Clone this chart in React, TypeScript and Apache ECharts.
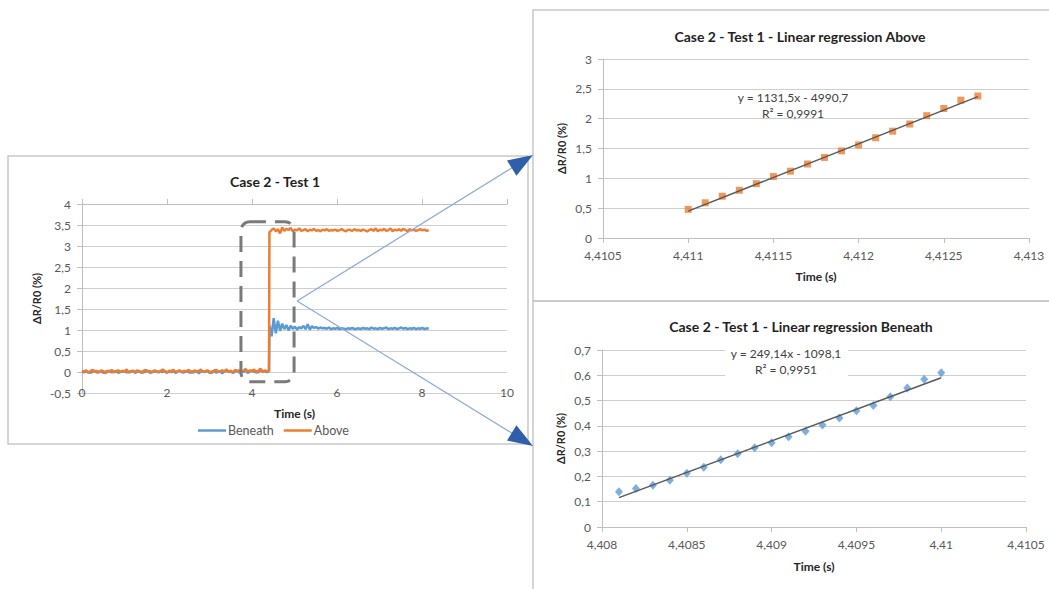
import React, { useEffect, useRef } from "react";
import * as echarts from "echarts";

// ---------- Main chart: Case 2 - Test 1 ----------
const SAMPLE_DT = 0.05; // sampling interval of the plotted signal (s)
const PRE_START = 0; // start time of the pre-step segment (s)
const POST_START = 4.41; // start time of the post-step segment (s)

const abovePre = [
  0.03, 0.01, 0.04, -0.02, 0.02, 0.05, 0.0, 0.03, -0.01, 0.04,
  0.02, -0.03, 0.03, 0.01, 0.05, -0.01, 0.02, 0.04, 0.0, 0.03,
  0.01, 0.06, -0.02, 0.02, 0.03, 0.0, 0.04, 0.01, -0.02, 0.03,
  0.05, 0.01, 0.02, -0.01, 0.04, 0.02, 0.0, 0.03, 0.06, 0.01,
  -0.02, 0.03, 0.02, 0.05, 0.0, 0.02, 0.04, -0.01, 0.03, 0.01,
  0.05, 0.02, -0.02, 0.04, 0.01, 0.03, 0.06, 0.0, 0.02, 0.04,
  0.01, -0.03, 0.03, 0.05, 0.02, 0.0, 0.04, 0.02, 0.06, 0.01,
  0.03, -0.02, 0.05, 0.02, 0.04, 0.0, 0.03, 0.07, 0.01, 0.04,
  0.02, 0.06, -0.02, 0.03, 0.08, 0.0, 0.04, 0.02, 0.03,
];
const abovePost = [
  3.33, 3.38, 3.42, 3.35, 3.4, 3.3, 3.44, 3.36, 3.41, 3.38,
  3.43, 3.35, 3.39, 3.37, 3.42, 3.36, 3.38, 3.4, 3.35, 3.39,
  3.37, 3.41, 3.36, 3.38, 3.35, 3.39, 3.37, 3.4, 3.36, 3.38,
  3.37, 3.39, 3.36, 3.38, 3.4, 3.37, 3.35, 3.39, 3.38, 3.36,
  3.4, 3.37, 3.38, 3.36, 3.39, 3.37, 3.35, 3.38, 3.4, 3.36,
  3.42, 3.35, 3.39, 3.37, 3.41, 3.36, 3.38, 3.42, 3.35, 3.39,
  3.37, 3.4, 3.36, 3.41, 3.38, 3.35, 3.4, 3.37, 3.39, 3.36,
  3.38, 3.4, 3.37, 3.39, 3.36, 3.38,
];
const beneathPre = [
  0.01, -0.01, 0.02, 0.0, -0.02, 0.01, 0.03, -0.01, 0.0, 0.02,
  -0.02, 0.01, 0.0, 0.03, -0.01, 0.01, 0.02, -0.02, 0.0, 0.01,
  0.02, -0.01, 0.01, 0.0, 0.03, -0.02, 0.01, 0.02, 0.0, -0.01,
  0.01, 0.03, -0.02, 0.0, 0.02, 0.01, -0.01, 0.02, 0.0, 0.03,
  -0.01, 0.01, 0.0, 0.02, -0.02, 0.01, 0.03, 0.0, -0.01, 0.02,
  0.01, -0.02, 0.02, 0.0, 0.01, -0.03, 0.02, 0.01, 0.0, 0.03,
  -0.02, 0.01, 0.02, -0.01, 0.0, 0.02, -0.03, 0.01, 0.03, 0.0,
  0.02, -0.02, 0.01, 0.03, -0.01, 0.02, 0.0, 0.04, -0.02, 0.01,
  0.03, 0.0, 0.02, -0.01, 0.05, 0.01, 0.02, 0.0, 0.01,
];
const beneathPost = [
  1.1, 0.85, 1.28, 0.92, 1.22, 0.98, 1.15, 1.02, 1.12, 0.99,
  1.1, 1.03, 1.08, 1.01, 1.07, 1.04, 1.1, 1.02, 1.14, 1.01,
  1.09, 1.05, 1.07, 1.03, 1.06, 1.04, 1.05, 1.03, 1.06, 1.02,
  1.04, 1.03, 1.05, 1.02, 1.04, 1.03, 1.02, 1.04, 1.03, 1.05,
  1.02, 1.03, 1.04, 1.02, 1.05, 1.03, 1.04, 1.02, 1.06, 1.03,
  1.04, 1.02, 1.05, 1.03, 1.04, 1.06, 1.02, 1.04, 1.03, 1.05,
  1.02, 1.04, 1.06, 1.03, 1.05, 1.02, 1.04, 1.03, 1.05, 1.02,
  1.04, 1.03, 1.05, 1.02, 1.04, 1.03,
];
// zoomed region marked by the dashed box (time s, ΔR/R0 %)
const zoomBoxTime = [3.74, 4.99];
const zoomBoxValue = [-0.23, 3.58];

// ---------- Linear regression Above ----------
const aboveRegTime = [
  4.411, 4.4111, 4.4112, 4.4113, 4.4114, 4.4115, 4.4116, 4.4117, 4.4118,
  4.4119, 4.412, 4.4121, 4.4122, 4.4123, 4.4124, 4.4125, 4.4126, 4.4127,
];
const aboveRegValue = [
  0.48, 0.59, 0.7, 0.8, 0.91, 1.03, 1.12, 1.24, 1.35, 1.46, 1.56, 1.68,
  1.79, 1.91, 2.05, 2.17, 2.31, 2.38,
];
const aboveTrendTime = [4.411, 4.4127];
const aboveTrendValue = [0.45, 2.37];
const aboveEquation = ["y = 1131,5x - 4990,7", "R² = 0,9991"];

// ---------- Linear regression Beneath ----------
const beneathRegTime = [
  4.4081, 4.4082, 4.4083, 4.4084, 4.4085, 4.4086, 4.4087, 4.4088, 4.4089,
  4.409, 4.4091, 4.4092, 4.4093, 4.4094, 4.4095, 4.4096, 4.4097, 4.4098,
  4.4099, 4.41,
];
const beneathRegValue = [
  0.139, 0.152, 0.165, 0.185, 0.213, 0.236, 0.266, 0.29, 0.313, 0.333,
  0.357, 0.379, 0.403, 0.431, 0.46, 0.481, 0.515, 0.55, 0.584, 0.61,
];
const beneathTrendTime = [4.4081, 4.41];
const beneathTrendValue = [0.116, 0.59];
const beneathEquation = ["y = 249,14x - 1098,1", "R² = 0,9951"];

const titles = [
  "Case 2 - Test 1",
  "Case 2 - Test 1 - Linear regression Above",
  "Case 2 - Test 1 - Linear regression Beneath",
];

const BLUE = "#5b9bd5";
const ORANGE = "#ed7d31";
const FONT = "Lato, 'Open Sans', sans-serif";
const LABEL = "#595959";
const GRID = "#cfcfcf";

const fmt = (v: number) =>
  String(parseFloat(v.toFixed(5))).replace(".", ",");

const pairs = (t: number[], v: number[]) => t.map((x, i) => [x, v[i]]);
const sampled = (start: number, v: number[]) =>
  v.map((y, i) => [parseFloat((start + i * SAMPLE_DT).toFixed(4)), y]);

function xAxisBase(grid: number, min: number, max: number, interval: number, margin: number, nameGap: number) {
  return {
    type: "value",
    gridIndex: grid,
    min,
    max,
    interval,
    name: "Time (s)",
    nameLocation: "middle",
    nameGap,
    nameTextStyle: { fontFamily: FONT, fontWeight: "bold", fontSize: 12, color: "#262626" },
    axisLine: { show: true, onZero: false, lineStyle: { color: "#bfbfbf", width: 1 } },
    axisTick: { show: true, length: 5, lineStyle: { color: "#bfbfbf" } },
    axisLabel: { formatter: fmt, fontFamily: FONT, fontSize: 12, color: LABEL, margin },
    splitLine: { show: false },
  };
}

function yAxisBase(grid: number, min: number, max: number, interval: number, nameGap: number) {
  return {
    type: "value",
    gridIndex: grid,
    min,
    max,
    interval,
    name: "ΔR/R0 (%)",
    nameLocation: "middle",
    nameGap,
    nameTextStyle: { fontFamily: FONT, fontWeight: "bold", fontSize: 11, color: "#262626" },
    axisLine: { show: true, lineStyle: { color: "#bfbfbf", width: 1 } },
    axisTick: { show: true, length: 5, lineStyle: { color: "#bfbfbf" } },
    axisLabel: { formatter: fmt, fontFamily: FONT, fontSize: 12, color: LABEL, margin: 11 },
    splitLine: { show: true, lineStyle: { color: GRID, width: 1.2 } },
  };
}

function arrowHead(x0: number, y0: number, tx: number, ty: number, len: number, half: number) {
  const dx = tx - x0;
  const dy = ty - y0;
  const l = Math.hypot(dx, dy);
  const ux = dx / l;
  const uy = dy / l;
  const cx = tx - ux * len;
  const cy = ty - uy * len;
  const nx = -uy;
  const ny = ux;
  return [
    [tx, ty],
    [cx + nx * half, cy + ny * half],
    [cx - nx * half, cy - ny * half],
  ];
}

export default function App() {
  const ref = useRef<HTMLDivElement>(null);

  useEffect(() => {
    if (!ref.current) return;
    const chart = echarts.init(ref.current, undefined, { renderer: "svg" });

    const grids = [
      { left: 82, top: 204, width: 425, height: 189 },
      { left: 603, top: 59, width: 426, height: 179 },
      { left: 602, top: 350, width: 424, height: 177 },
    ];

    const main0 = xAxisBase(0, 0, 10, 2, -7, 14) as any;
    main0.axisLine = { show: false };
    main0.axisTick = { show: false };
    const mainZero = {
      type: "value",
      gridIndex: 0,
      min: 0,
      max: 10,
      interval: 2,
      axisLine: { show: true, onZero: true, lineStyle: { color: "#bfbfbf", width: 1.2 } },
      axisTick: { show: true, length: 5, lineStyle: { color: "#bfbfbf" } },
      axisLabel: { show: false },
      splitLine: { show: false },
    };

    const option: any = {
      animation: false,
      backgroundColor: "#ffffff",
      title: titles.map((t, i) => ({
        text: t,
        left: [270, 795, 796][i],
        top: [169, 24, 314][i],
        textAlign: "center",
        textStyle: { fontFamily: FONT, fontWeight: "bold", fontSize: 14, color: "#1f1f1f" },
      })),
      legend: {
        data: ["Beneath", "Above"],
        left: 193,
        top: 419,
        orient: "horizontal",
        icon: "rect",
        itemWidth: 28,
        itemHeight: 2.5,
        itemGap: 10,
        textStyle: { fontFamily: FONT, fontSize: 12.5, color: LABEL, padding: [0, 0, 0, -3] },
      },
      grid: grids,
      xAxis: [
        main0,
        xAxisBase(1, 4.4105, 4.413, 0.0005, 11, 32),
        xAxisBase(2, 4.408, 4.4105, 0.0005, 11, 33),
        mainZero,
      ],
      yAxis: [
        yAxisBase(0, -0.5, 4, 0.5, 40),
        yAxisBase(1, 0, 3, 0.5, 36),
        yAxisBase(2, 0, 0.7, 0.1, 36),
      ],
      series: [
        {
          name: "Beneath",
          type: "line",
          xAxisIndex: 0,
          yAxisIndex: 0,
          showSymbol: false,
          color: BLUE,
          lineStyle: { color: BLUE, width: 2.5 },
          data: [...sampled(PRE_START, beneathPre), ...sampled(POST_START, beneathPost)],
        },
        {
          name: "Above",
          type: "line",
          xAxisIndex: 0,
          yAxisIndex: 0,
          showSymbol: false,
          color: ORANGE,
          lineStyle: { color: ORANGE, width: 2.5 },
          data: [...sampled(PRE_START, abovePre), ...sampled(POST_START, abovePost)],
        },
        {
          name: "Above trend",
          type: "line",
          xAxisIndex: 1,
          yAxisIndex: 1,
          showSymbol: false,
          lineStyle: { color: "#595959", width: 1.5 },
          data: pairs(aboveTrendTime, aboveTrendValue),
          z: 3,
        },
        {
          name: "Above points",
          type: "scatter",
          xAxisIndex: 1,
          yAxisIndex: 1,
          symbol: "rect",
          symbolSize: 7,
          itemStyle: { color: ORANGE },
          data: pairs(aboveRegTime, aboveRegValue),
          z: 2,
        },
        {
          name: "Beneath trend",
          type: "line",
          xAxisIndex: 2,
          yAxisIndex: 2,
          showSymbol: false,
          lineStyle: { color: "#595959", width: 1.5 },
          data: pairs(beneathTrendTime, beneathTrendValue),
          z: 3,
        },
        {
          name: "Beneath points",
          type: "scatter",
          xAxisIndex: 2,
          yAxisIndex: 2,
          symbol: "diamond",
          symbolSize: [8, 9],
          itemStyle: { color: BLUE },
          data: pairs(beneathRegTime, beneathRegValue),
          z: 2,
        },
      ],
    };
    chart.setOption(option);

    const p1 = chart.convertToPixel({ xAxisIndex: 0, yAxisIndex: 0 }, [zoomBoxTime[0], zoomBoxValue[1]]) as number[];
    const p2 = chart.convertToPixel({ xAxisIndex: 0, yAxisIndex: 0 }, [zoomBoxTime[1], zoomBoxValue[0]]) as number[];

    const start = [p2[0] + 3, 301];
    const tipTop = [533, 155];
    const tipBot = [533, 446];

    const eqStyle = { fontFamily: FONT, fontSize: 12, fill: "#404040", align: "center", verticalAlign: "middle" };

    const graphic: any[] = [
      // panel borders
      { type: "rect", shape: { x: 8, y: 156, width: 520, height: 288 }, style: { fill: "none", stroke: "#c8c8c8", lineWidth: 1.5 }, z: 1 },
      { type: "rect", shape: { x: 533, y: 10, width: 520, height: 291 }, style: { fill: "none", stroke: "#c8c8c8", lineWidth: 1.5 }, z: 1 },
      { type: "rect", shape: { x: 533, y: 301, width: 520, height: 295 }, style: { fill: "none", stroke: "#c8c8c8", lineWidth: 1.5 }, z: 1 },
      // dashed zoom box
      {
        type: "rect",
        shape: { x: p1[0], y: p1[1], width: p2[0] - p1[0], height: p2[1] - p1[1], r: 9 },
        style: { fill: "none", stroke: "#7a7a7a", lineWidth: 3, lineDash: [16, 9] },
        z: 50,
      },
      // arrows
      { type: "line", shape: { x1: start[0], y1: start[1], x2: tipTop[0] - 10, y2: tipTop[1] + 6 }, style: { stroke: "#8faad8", lineWidth: 1.3 }, z: 60 },
      { type: "line", shape: { x1: start[0], y1: start[1], x2: tipBot[0] - 10, y2: tipBot[1] - 6 }, style: { stroke: "#8faad8", lineWidth: 1.3 }, z: 60 },
      { type: "polygon", shape: { points: arrowHead(start[0], start[1], tipTop[0], tipTop[1], 25, 9) }, style: { fill: "#2e5fa8" }, z: 61 },
      { type: "polygon", shape: { points: arrowHead(start[0], start[1], tipBot[0], tipBot[1], 25, 9) }, style: { fill: "#2e5fa8" }, z: 61 },
      // equations
      { type: "text", x: 793, y: 97, style: { ...eqStyle, text: aboveEquation[0] }, z: 70 },
      { type: "text", x: 793, y: 113, style: { ...eqStyle, text: aboveEquation[1] }, z: 70 },
      { type: "rect", shape: { x: 725, y: 342, width: 123, height: 36 }, style: { fill: "#ffffff" }, z: 65 },
      { type: "text", x: 786, y: 353, style: { ...eqStyle, text: beneathEquation[0] }, z: 70 },
      { type: "text", x: 786, y: 369, style: { ...eqStyle, text: beneathEquation[1] }, z: 70 },
    ];
    chart.setOption({ graphic });

    return () => chart.dispose();
  }, []);

  return (
    <div
      ref={ref}
      style={{ position: "fixed", left: 0, top: 0, width: 1049, height: 589, background: "#fff" }}
    />
  );
}
